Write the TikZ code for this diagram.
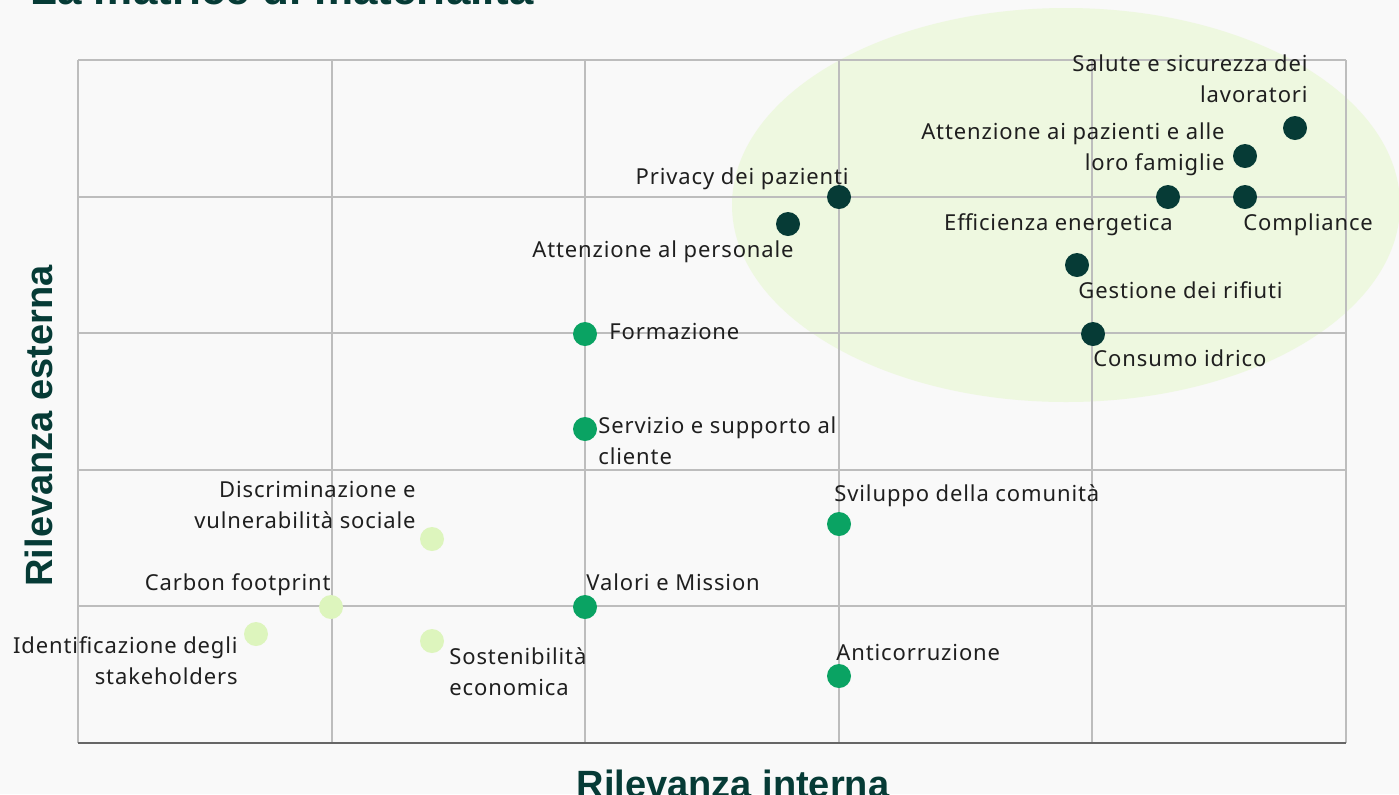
\documentclass[tikz,border=0pt]{standalone}
\usepackage{fontspec}
\setmainfont{Noto Sans}[LetterSpace=4]
\newfontfamily\axisfont{Liberation Sans}
\usetikzlibrary{positioning}
\definecolor{bgcol}{HTML}{F9F9F9}
\definecolor{zonecol}{HTML}{EEF8E0}
\definecolor{gridcol}{HTML}{BDBDBD}
\definecolor{axiscol}{HTML}{666666}
\definecolor{darkgreen}{HTML}{063B36}
\definecolor{midgreen}{HTML}{0AA363}
\definecolor{lightgreen}{HTML}{DDF5BD}
\tikzset{
    dot/.style={circle, inner sep=0pt, minimum size=12pt},
    dotdark/.style={dot, fill=darkgreen},
    dotmid/.style={dot, fill=midgreen},
    dotlight/.style={dot, fill=lightgreen},
    lbl/.style={font=\fontsize{11}{15.5}\selectfont, inner sep=0pt, text=black!88, yshift=-1.5pt},
    axislbl/.style={font=\fontsize{19}{22}\selectfont\axisfont\bfseries, text=darkgreen, inner sep=0pt},
}
\begin{document}
\begin{tikzpicture}[x=0.5pt, y=-0.5pt]
        \useasboundingbox (0,0) rectangle (1399,794);
        \fill[bgcol] (0,0) rectangle (1399,794);
        % zona prioritaria
        \fill[zonecol] (1066,205) ellipse [x radius=334, y radius=197];
        % griglia
        \foreach \i in {0,...,5} {
            \draw[gridcol, line width=1pt] ({78+253.6*\i},60) -- ({78+253.6*\i},743);
            \draw[gridcol, line width=1pt] (78,{60+136.6*\i}) -- (1346,{60+136.6*\i});
        }
        \draw[axiscol, line width=1.3pt] (78,743) -- (1346,743);
        % titoli
        \node[axislbl, font=\fontsize{22}{24}\selectfont\axisfont\bfseries, anchor=base west] (titolo) at (30,4) {La matrice di materialità};
        \node[axislbl, anchor=base] (asseX) at (733,797) {Rilevanza interna};
        \node[axislbl, anchor=base, rotate=90] (asseY) at (52,426) {Rilevanza esterna};
        % temi
        \node[dotdark] (salute) at (1295,128) {};
        \node[dotdark] (pazienti) at (1245,156) {};
        \node[dotdark] (efficienza) at (1168,197) {};
        \node[dotdark] (compliance) at (1245,197) {};
        \node[dotdark] (privacy) at (839,197) {};
        \node[dotdark] (personale) at (788,224) {};
        \node[dotdark] (rifiuti) at (1077,265) {};
        \node[dotdark] (idrico) at (1093,334) {};
        \node[dotmid] (formazione) at (585,334) {};
        \node[dotmid] (servizio) at (585,429) {};
        \node[dotmid] (sviluppo) at (839,524) {};
        \node[dotmid] (valori) at (585,607) {};
        \node[dotmid] (anticorr) at (839,676) {};
        \node[dotlight] (discrim) at (432,539) {};
        \node[dotlight] (carbon) at (331,607) {};
        \node[dotlight] (identif) at (256,634) {};
        \node[dotlight] (sostenib) at (432,641) {};
        % etichette (per due righe: y della seconda riga)
        \node[lbl, anchor=mid east, align=right] (saluteL) at (1308,94) {Salute e sicurezza dei\\lavoratori};
        \node[lbl, anchor=mid east, align=right] (pazientiL) at (1225,162) {Attenzione ai pazienti e alle\\loro famiglie};
        \node[lbl, anchor=mid east] (privacyL) at (849,176) {Privacy dei pazienti};
        \node[lbl, anchor=mid east] (personaleL) at (794,249) {Attenzione al personale};
        \node[lbl, anchor=mid east] (efficienzaL) at (1173,222) {Efficienza energetica};
        \node[lbl, anchor=mid west] (complianceL) at (1243,222) {Compliance};
        \node[lbl, anchor=mid west] (rifiutiL) at (1078,290) {Gestione dei rifiuti};
        \node[lbl, anchor=mid west] (idricoL) at (1093,358) {Consumo idrico};
        \node[lbl, anchor=mid west] (formazioneL) at (609,331) {Formazione};
        \node[lbl, anchor=mid west, align=left] (servizioL) at (598,456) {Servizio e supporto al\\cliente};
        \node[lbl, anchor=mid east, align=right] (discrimL) at (416,520) {Discriminazione e\\vulnerabilità sociale};
        \node[lbl, anchor=mid west] (sviluppoL) at (834,493) {Sviluppo della comunità};
        \node[lbl, anchor=mid east] (carbonL) at (331,582) {Carbon footprint};
        \node[lbl, anchor=mid west] (valoriL) at (586,582) {Valori e Mission};
        \node[lbl, anchor=mid east, align=right] (identifL) at (238,676) {Identificazione degli\\stakeholders};
        \node[lbl, anchor=mid west, align=left] (sostenibL) at (449,687) {Sostenibilità\\economica};
        \node[lbl, anchor=mid west] (anticorrL) at (836,652) {Anticorruzione};
    \end{tikzpicture}
\end{document}
